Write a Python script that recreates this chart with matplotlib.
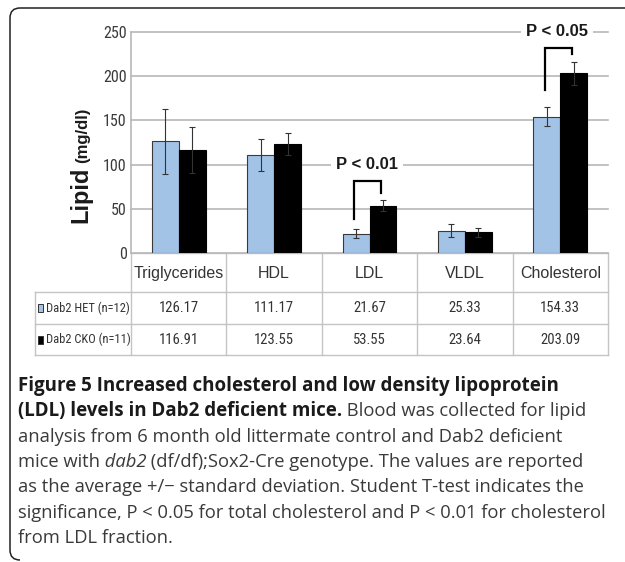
import matplotlib
matplotlib.use("Agg")
import numpy as np
import matplotlib.pyplot as plt
from matplotlib.path import Path
from matplotlib.patches import PathPatch, Rectangle

# -- Datos ----------------------------------------------------
categorias = ["Triglycerides", "HDL", "LDL", "VLDL", "Cholesterol"]
het = [126.17, 111.17, 21.67, 25.33, 154.33]
het_sd = [37.0, 18.0, 5.0, 7.0, 10.5]
cko = [116.91, 123.55, 53.55, 23.64, 203.09]
cko_sd = [26.0, 12.5, 6.0, 5.0, 13.0]
grupos = ["Dab2 HET (n=12)", "Dab2 CKO (n=11)"]
yticks = [0, 50, 100, 150, 200, 250]

# (categoria, base izq, tope, base der, altura etiqueta, etiqueta)
signif = [(2, 38.5, 82.0, 68.0, 100, "P < 0.01"),
          (4, 184.0, 231.5, 224.6, 250, "P < 0.05")]

caption = [
    [("Figure 5 Increased cholesterol and low density lipoprotein", "b")],
    [("(LDL) levels in Dab2 deficient mice.", "b"), (" Blood was collected for lipid", "r")],
    [("analysis from 6 month old littermate control and Dab2 deficient", "r")],
    [("mice with", "r"), (" dab2", "i"), (" (df/df);Sox2-Cre genotype. The values are reported", "r")],
    [("as the average +/\u2212 standard deviation. Student T-test indicates the", "r")],
    [("significance, P < 0.05 for total cholesterol and P < 0.01 for cholesterol", "r")],
    [("from LDL fraction.", "r")],
]

# -- Estilo ---------------------------------------------------
AZUL = "#a2c2e6"
GRID = "#b8b8b8"
LINEA_TAB = "#c4c4c4"
ARIAL = ["Liberation Sans", "DejaVu Sans"]
NARROW = ["Roboto Condensed", "Archivo Narrow", "PT Sans Narrow", "Liberation Sans"]
CAP_FONT = ["Open Sans", "Noto Sans", "DejaVu Sans"]

W, H = 625, 562
fig = plt.figure(figsize=(W / 100, H / 100), dpi=100)

# ejes del grafico (en pixeles: x 131..608, y 32..253)
ax = fig.add_axes([131 / W, 1 - 253 / H, 477 / W, 221 / H])
ov = fig.add_axes([0, 0, 1, 1], zorder=-1)
ov.set_xlim(0, W)
ov.set_ylim(H, 0)
ov.axis("off")

x = np.arange(len(categorias))
w = 0.283
ekw = dict(ecolor="#333333", elinewidth=0.8, capsize=2.2, capthick=0.8)
ax.bar(x - w / 2, het, w, color=AZUL, edgecolor="#3a3a3a", lw=0.8,
       yerr=het_sd, error_kw=ekw, zorder=3)
ax.bar(x + w / 2, cko, w, color="black", edgecolor="black", lw=0.8,
       yerr=cko_sd, error_kw=ekw, zorder=3)

ax.set_xlim(-0.5, len(categorias) - 0.5)
ax.set_ylim(0, 250)
ax.set_yticks(yticks)
ax.set_yticklabels([str(t) for t in yticks], family=NARROW, fontsize=11.5,
                   color="#3a3a3a")
ax.set_xticks([])
ax.tick_params(axis="y", length=0, pad=3)
ax.yaxis.grid(True, color=GRID, lw=1.2)
for gl in ax.get_ygridlines():
    gl.set_clip_on(False)
ax.set_axisbelow(True)
for s in ["top", "right", "bottom"]:
    ax.spines[s].set_visible(False)
ax.spines["left"].set_color(GRID)
ax.spines["left"].set_linewidth(1.2)
ax.patch.set_alpha(0)

# corchetes de significancia
for cat, yb1, ytop, yb2, ylab, lab in signif:
    ax.plot([cat - 0.16, cat - 0.16, cat + 0.12, cat + 0.12],
            [yb1, ytop, ytop, yb2], color="black", lw=1.6,
            solid_joinstyle="miter", zorder=5, clip_on=False)
    ax.text(cat - 0.03, ylab, lab, ha="center", va="center", family=ARIAL,
            fontweight="bold", fontsize=12, color="#1a1a1a", zorder=4,
            bbox=dict(boxstyle="square,pad=0.3", fc="white", ec="none"))

# -- Tabla ----------------------------------------------------
def px(xd):
    return ov.transData.inverted().transform(ax.transData.transform((xd, 0)))[0]

bordes = [px(i - 0.5) for i in range(len(categorias) + 1)]
y_cab, y_f1, y_f2, y_f3 = 253, 292, 324, 355
x_lab = 35
lk = dict(color=LINEA_TAB, lw=1.0)
ov.plot([bordes[0], bordes[-1]], [y_cab, y_cab], **lk)
for yy in (y_f1, y_f2, y_f3):
    ov.plot([x_lab, bordes[-1]], [yy, yy], **lk)
ov.plot([x_lab, x_lab], [y_f1, y_f3], **lk)
for b in bordes:
    ov.plot([b, b], [y_cab, y_f3], **lk)

for i, cat in enumerate(categorias):
    cx = (bordes[i] + bordes[i + 1]) / 2
    ov.text(cx, (y_cab + y_f1) / 2 + 1, cat, ha="center", va="center",
            family=ARIAL, fontsize=11.5, color="#333333")
    ov.text(cx, (y_f1 + y_f2) / 2, f"{het[i]:.2f}", ha="center", va="center",
            family=NARROW, fontsize=10.5, color="#333333")
    ov.text(cx, (y_f2 + y_f3) / 2, f"{cko[i]:.2f}", ha="center", va="center",
            family=NARROW, fontsize=10.5, color="#333333")

for j, (g, col) in enumerate(zip(grupos, [AZUL, "black"])):
    yc = [(y_f1 + y_f2) / 2, (y_f2 + y_f3) / 2][j]
    ov.add_patch(Rectangle((37.5, yc - 4), 5.5, 8, fc=col, ec="#333333", lw=0.7))
    ov.text(45.5, yc, g, ha="left", va="center", family=NARROW, fontsize=9,
            color="#333333")

# -- Etiqueta eje Y -------------------------------------------
fig.canvas.draw()
r = fig.canvas.get_renderer()
t1 = ov.text(87, 223, "Lipid", rotation=90, rotation_mode="anchor",
             ha="left", va="baseline", family=ARIAL, fontweight="bold",
             fontsize=17, color="#1a1a1a")
h1 = t1.get_window_extent(r).height
ov.text(87, 223 - h1 - 4, "(mg/dl)", rotation=90, rotation_mode="anchor",
        ha="left", va="baseline", family=ARIAL, fontweight="bold",
        fontsize=12, color="#1a1a1a")

# -- Marco ----------------------------------------------------
verts = [(625, 8), (20, 8), (10, 8), (10, 18), (10, 550), (10, 560), (20, 560)]
codes = [Path.MOVETO, Path.LINETO, Path.CURVE3, Path.CURVE3, Path.LINETO,
         Path.CURVE3, Path.CURVE3]
ov.add_patch(PathPatch(Path(verts, codes), fc="none", ec="#222222", lw=1.1))

# -- Leyenda de la figura -------------------------------------
estilos = {"b": dict(fontweight="bold", color="#1a1a1a", fontsize=13.5),
           "r": dict(fontweight="normal", color="#3a3a3a", fontsize=13.25),
           "i": dict(fontweight="normal", style="italic", color="#3a3a3a",
                     fontsize=13.25)}
for i, linea in enumerate(caption):
    xx = 18
    yy = 391 + 25.3 * i
    for txt, st in linea:
        t = ov.text(xx, yy, txt, ha="left", va="baseline", family=CAP_FONT,
                    **estilos[st])
        xx += t.get_window_extent(r).width

fig.savefig("out.png", dpi=100)
